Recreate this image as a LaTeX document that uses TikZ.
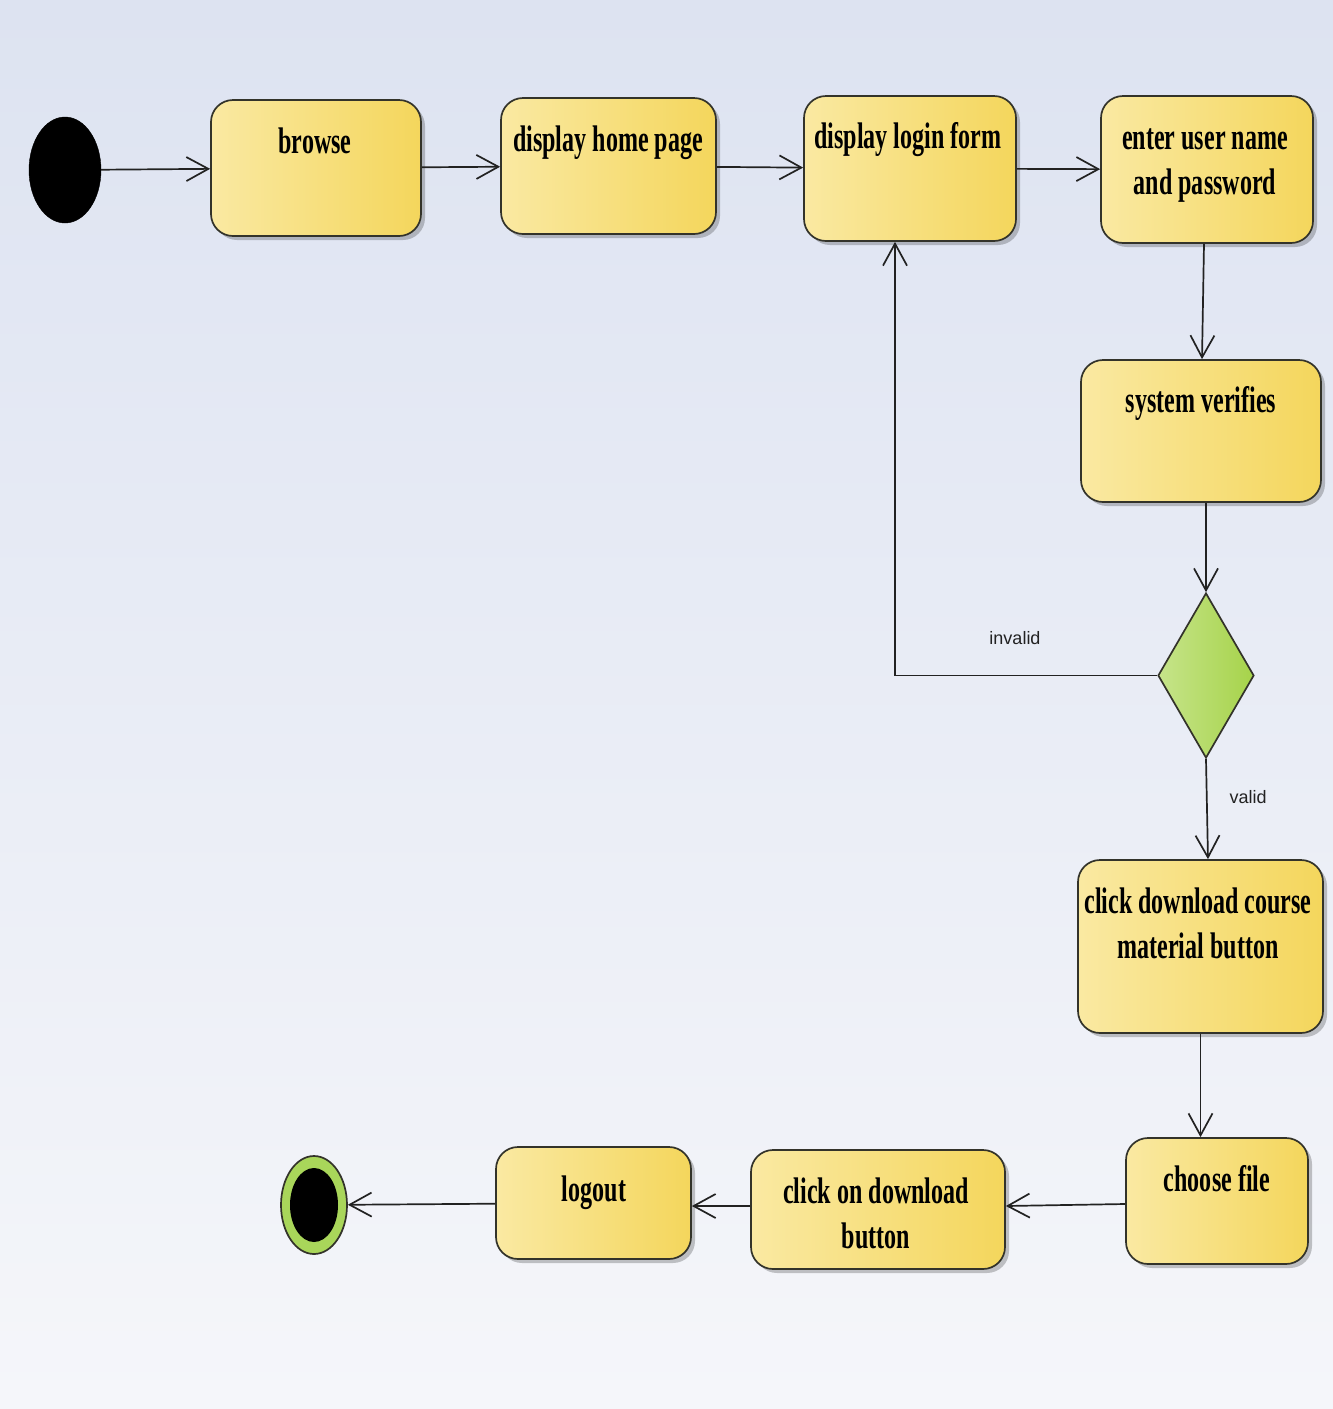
\documentclass[tikz,border=0pt]{standalone}
\usepackage{fontspec}
\usetikzlibrary{arrows.meta,shapes.geometric,shadows}
\newfontfamily\boxfont[FakeStretch=0.65]{Liberation Serif}
\newfontfamily\lblfont{Liberation Sans}
\definecolor{bgtop}{HTML}{DDE3F1}
\definecolor{bgbot}{HTML}{F5F6FA}
\definecolor{ylight}{HTML}{FAE9A2}
\definecolor{ydark}{HTML}{F4D65C}
\definecolor{glight}{HTML}{C6E48A}
\definecolor{gdark}{HTML}{A6D34A}
\definecolor{edge}{HTML}{222222}
\definecolor{boxline}{HTML}{33332A}
\definecolor{endgreen}{HTML}{A9D65A}
\tikzset{
  act/.style={draw=boxline, line width=1.7pt, rounded corners=22pt,
    left color=ylight, right color=ydark, inner sep=0pt,
    drop shadow={shadow xshift=4pt, shadow yshift=-4pt, opacity=0.22, fill=black}},
  txt/.style={font=\boxfont\bfseries\fontsize{37}{45}\selectfont, inner sep=0pt,
    align=center, text=black},
  lbl/.style={font=\lblfont\fontsize{18}{20}\selectfont, inner sep=0pt, text=edge},
  flow/.style={draw=edge, line width=1.7pt, -{Straight Barb[length=22pt, width=24pt, line width=1.7pt]}},
}
\begin{document}
\begin{tikzpicture}[x=1pt, y=-1pt]
\shade[top color=bgtop, bottom color=bgbot] (0,0) rectangle (1333,1409);
\useasboundingbox (0,0) rectangle (1333,1409);

% initial node
\node[ellipse, fill=black, draw=black, minimum width=72pt, minimum height=106pt, inner sep=0pt] (start) at (65,170) {};

% activities
\node[act, minimum width=210pt, minimum height=136pt] (browse) at (316,168) {};
\node[act, minimum width=215pt, minimum height=136pt] (home) at (608.5,166) {};
\node[act, minimum width=212pt, minimum height=145pt] (login) at (910,168.5) {};
\node[act, minimum width=212pt, minimum height=147pt] (enter) at (1207,169.5) {};
\node[act, minimum width=240pt, minimum height=142pt] (verify) at (1201,431) {};
\node[diamond, draw=boxline, line width=1.7pt, left color=glight, right color=gdark,
  minimum width=96pt, minimum height=165pt, inner sep=0pt] (dec) at (1206,675.5) {};
\node[act, minimum width=245pt, minimum height=173pt] (course) at (1200.5,946.5) {};
\node[act, minimum width=182pt, minimum height=126pt] (choose) at (1217,1201) {};
\node[act, minimum width=254pt, minimum height=119pt] (clickdl) at (878,1209.5) {};
\node[act, minimum width=195pt, minimum height=112pt] (logout) at (593.5,1203) {};

% final node
\node[ellipse, fill=endgreen, draw=boxline, line width=1.7pt, minimum width=66pt, minimum height=98pt, inner sep=0pt] (end) at (314,1205) {};
\node[ellipse, fill=black, minimum width=48pt, minimum height=74pt, inner sep=0pt] (endin) at (314,1205) {};

% texts
\node[txt, anchor=base] (tbrowse) at (315,153) {browse};
\node[txt, anchor=base] (thome) at (608,151) {display home page};
\node[txt, anchor=base] (tlogin) at (908,148) {display login form};
\node[txt, anchor=north] (tenter) at (1205,128) {enter user name\\and password};
\node[txt, anchor=base] (tverify) at (1201,412) {system verifies};
\node[txt, anchor=north] (tcourse) at (1198,888) {click download course\\material button};
\node[txt, anchor=base] (tchoose) at (1217,1191) {choose file};
\node[txt, anchor=north] (tclickdl) at (876,1178) {click on download\\button};
\node[txt, anchor=base] (tlogout) at (594,1201) {logout};

% connectors
\draw[flow] (start) -- (browse);
\draw[flow] (browse) -- (home);
\draw[flow] (home) -- (login);
\draw[flow] (login) -- (enter);
\draw[flow] ([xshift=-3pt]enter.south) -- ([xshift=1pt]verify.north);
\draw[flow] (verify.south -| dec.north) -- (dec.north);
\coordinate (bend) at (895,675.5);
\draw[flow] (dec.west) -- (bend) -- (bend |- login.south);
\draw[flow] (dec.south) -- ([xshift=2pt]dec.south |- course.north);
\draw[flow] (course.south) -- (course.south |- choose.north);
\draw[flow] ([yshift=-3pt]choose.west) -- ([yshift=3.5pt]clickdl.east);
\draw[flow] ([yshift=3.5pt]clickdl.west) -- ([yshift=-3pt]logout.east);
\draw[flow] (logout) -- (end);

% guard labels
\node[lbl] (linvalid) at (1015,638) {invalid};
\node[lbl] (lvalid) at (1248,797) {valid};
\end{tikzpicture}
\end{document}
